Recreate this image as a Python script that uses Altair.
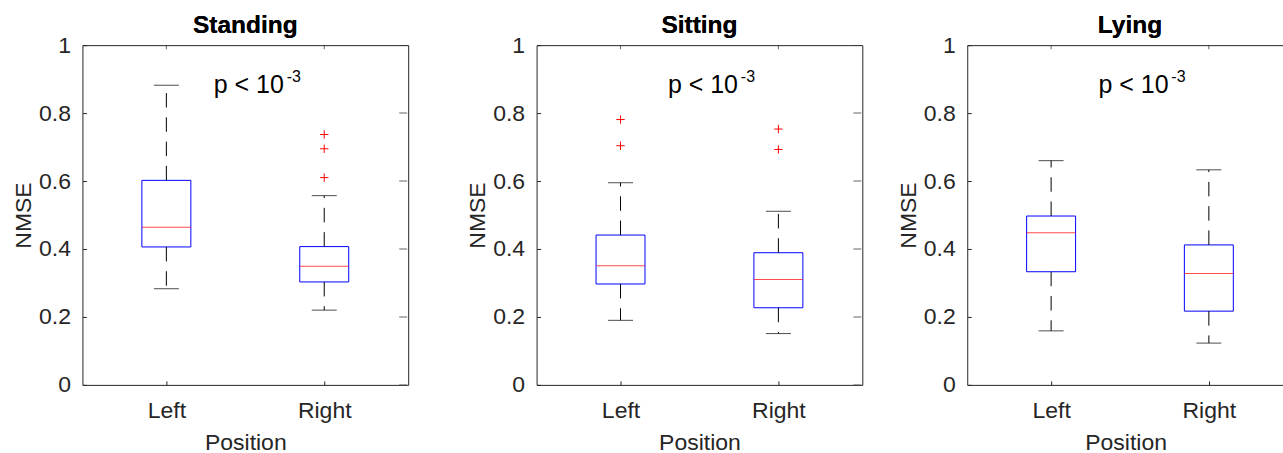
import altair as alt
import pandas as pd

# ---------------- data ----------------
panels = ["Standing", "Sitting", "Lying"]
sides = ["Left", "Right"]
side_pos = [1, 2]

whisker_low = [[0.283, 0.220], [0.190, 0.151], [0.159, 0.123]]
box_q1 = [[0.406, 0.303], [0.297, 0.227], [0.333, 0.217]]
box_median = [[0.464, 0.349], [0.351, 0.310], [0.448, 0.328]]
box_q3 = [[0.602, 0.407], [0.441, 0.389], [0.497, 0.412]]
whisker_high = [[0.882, 0.557], [0.595, 0.511], [0.660, 0.633]]

outlier_panel = ["Standing", "Standing", "Standing", "Sitting", "Sitting", "Sitting", "Sitting"]
outlier_side = [2, 2, 2, 1, 1, 2, 2]
outlier_value = [0.610, 0.695, 0.737, 0.704, 0.781, 0.693, 0.753]

y_ticks = [0, 0.2, 0.4, 0.6, 0.8, 1]
annot_x = 1.30
annot_y = 0.858
annot_main = "p < 10"
annot_sup = "-3"

# layout (the third panel runs off the right edge of the picture)
FULL_W = 326
panel_width = [326, 326, 317]
right_ticks = [True, True, False]

FONT = "Liberation Sans"
AX = "#262626"
FS = 23

label_expr = "datum.value == 1 ? '" + sides[0] + "' : '" + sides[1] + "'"


def make_panel(i):
    name = panels[i]
    w = panel_width[i]
    xmax = 0.5 + 2.0 * w / FULL_W
    df = pd.DataFrame({
        "pos": side_pos,
        "low": whisker_low[i],
        "q1": box_q1[i],
        "med": box_median[i],
        "q3": box_q3[i],
        "high": whisker_high[i],
    })
    od = pd.DataFrame({
        "pos": [s for p, s in zip(outlier_panel, outlier_side) if p == name],
        "val": [v for p, v in zip(outlier_panel, outlier_value) if p == name],
    })
    ad = pd.DataFrame({"x": [annot_x], "y": [annot_y], "t": [annot_main], "s": [annot_sup]})
    td = pd.DataFrame({"v": y_ticks})

    xs = alt.Scale(domain=[0.5, xmax], nice=False, zero=False)
    ys = alt.Scale(domain=[0, 1], nice=False)

    x_main = alt.X("pos:Q", scale=xs, axis=alt.Axis(
        values=side_pos, labelExpr=label_expr, title="Position", orient="bottom",
        offset=-4, tickSize=4, tickColor=AX, domain=False, grid=False,
        labelPadding=15, titlePadding=9))
    y_main = alt.Y("q1:Q", scale=ys, axis=alt.Axis(
        values=y_ticks, format="~g", title="NMSE", orient="left",
        offset=-4, tickSize=4, tickColor=AX, domain=False, grid=False,
        labelPadding=12, titlePadding=3))

    base = alt.Chart(df)
    box = base.mark_bar(size=49, fill="white", fillOpacity=0, stroke="#0000ff", strokeWidth=1).encode(
        x=x_main, y=y_main, y2="q3:Q")

    x_none = alt.X("pos:Q", scale=xs, axis=None)
    dash = [14.5, 9.8]
    wh_up = base.mark_rule(color="#000000", strokeWidth=1, strokeDash=dash).encode(
        x=x_none, y=alt.Y("q3:Q", scale=ys, axis=None), y2="high:Q")
    wh_lo = base.mark_rule(color="#000000", strokeWidth=1, strokeDash=dash).encode(
        x=x_none, y=alt.Y("q1:Q", scale=ys, axis=None), y2="low:Q")
    cap_hi = base.mark_tick(orient="horizontal", size=25, thickness=1, color="#000000").encode(
        x=x_none, y=alt.Y("high:Q", scale=ys, axis=None))
    cap_lo = base.mark_tick(orient="horizontal", size=25, thickness=1, color="#000000").encode(
        x=x_none, y=alt.Y("low:Q", scale=ys, axis=None))
    med = base.mark_tick(orient="horizontal", size=49, thickness=1, color="#ff0000").encode(
        x=x_none, y=alt.Y("med:Q", scale=ys, axis=None))

    # inward ticks on the top edge (clipped to the plot area)
    top_t = base.mark_tick(orient="vertical", size=8, thickness=1, color=AX, clip=True).encode(
        x=x_none, y=alt.YDatum(1, scale=ys, axis=None))

    layers = [box, wh_up, wh_lo, cap_hi, cap_lo, med, top_t]
    if right_ticks[i]:
        right_t = alt.Chart(td).mark_tick(orient="horizontal", size=8, thickness=1, color=AX,
                                          clip=True).encode(
            x=alt.XDatum(xmax, scale=xs, axis=None), y=alt.Y("v:Q", scale=ys, axis=None))
        layers.append(right_t)
    if len(od):
        outl = alt.Chart(od).mark_point(
            shape="M-1,0L1,0M0,-1L0,1", size=70, stroke="#ff0000", strokeWidth=1, filled=False, opacity=1
        ).encode(x=x_none, y=alt.Y("val:Q", scale=ys, axis=None))
        layers.append(outl)

    t_main = alt.Chart(ad).mark_text(align="left", baseline="alphabetic", font=FONT, fontSize=25,
                                     color="#000000").encode(
        x=alt.X("x:Q", scale=xs, axis=None), y=alt.Y("y:Q", scale=ys, axis=None), text="t:N")
    t_sup = alt.Chart(ad).mark_text(align="left", baseline="alphabetic", font=FONT, fontSize=16,
                                    color="#000000", dx=73, dy=-11.5).encode(
        x=alt.X("x:Q", scale=xs, axis=None), y=alt.Y("y:Q", scale=ys, axis=None), text="s:N")
    # panel title, placed just above the frame
    t_title = base.mark_text(align="center", baseline="alphabetic", font=FONT, fontSize=24.5,
                             fontWeight="bold", color="#000000", dy=-12).encode(
        x=alt.XDatum(1.5, scale=xs, axis=None), y=alt.YDatum(1, scale=ys, axis=None),
        text=alt.value(name))
    layers += [t_main, t_sup, t_title]

    return alt.layer(*layers).resolve_axis(x="independent", y="independent").properties(
        width=w, height=340)


p1, p2, p3 = (make_panel(i) for i in range(3))
chart = alt.hconcat(alt.hconcat(p1, p2, spacing=56.5), p3, spacing=33.5).properties(
    padding={"left": 11.5, "top": 12, "right": -1.5, "bottom": 0},
    background="white",
).configure_view(stroke=AX, strokeWidth=1).configure_axis(
    labelFont=FONT, labelFontSize=FS, labelColor=AX,
    titleFont=FONT, titleFontSize=FS, titleFontWeight="normal", titleColor=AX
)

chart.save("out.html", embed_options={"renderer": "svg", "actions": False})
